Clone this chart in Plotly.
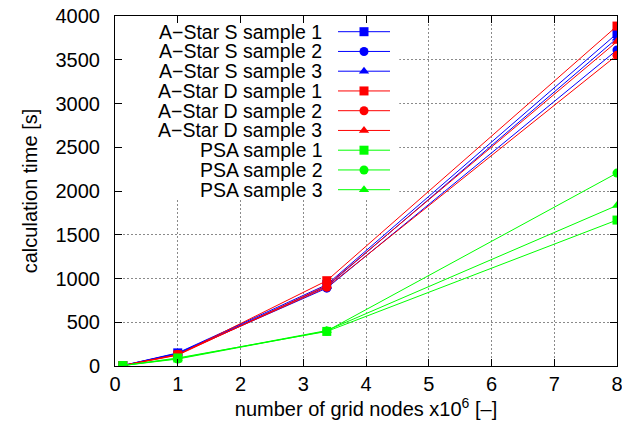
import plotly.graph_objects as go

# ---- data ----
grid_nodes = [0.125, 1.0, 3.375, 8.0]  # x10^6

series_names = [
    "A−Star S sample 1", "A−Star S sample 2", "A−Star S sample 3",
    "A−Star D sample 1", "A−Star D sample 2", "A−Star D sample 3",
    "PSA sample 1", "PSA sample 2", "PSA sample 3",
]
astar_s_1 = [5, 150, 930, 3800]
astar_s_2 = [5, 140, 890, 3612]
astar_s_3 = [5, 145, 910, 3745]
astar_d_1 = [5, 128, 975, 3885]
astar_d_2 = [5, 132, 900, 3552]
astar_d_3 = [5, 124, 920, 3708]
psa_1 = [5, 92, 395, 1668]
psa_2 = [5, 80, 400, 2205]
psa_3 = [5, 85, 405, 1835]

series_values = [astar_s_1, astar_s_2, astar_s_3,
                 astar_d_1, astar_d_2, astar_d_3,
                 psa_1, psa_2, psa_3]
colors = ["#0000ff"] * 3 + ["#ff0000"] * 3 + ["#00ff00"] * 3
symbols = ["square", "circle", "triangle-up"] * 3

x_ticks = [0, 1, 2, 3, 4, 5, 6, 7, 8]
y_ticks = [0, 500, 1000, 1500, 2000, 2500, 3000, 3500, 4000]

FONT = "Liberation Sans, Arial, sans-serif"
FS = 20
LFS = 19.5

fig = go.Figure()
for name, vals, c, s in zip(series_names, series_values, colors, symbols):
    fig.add_trace(go.Scatter(
        x=grid_nodes, y=vals, name=name, mode="lines+markers",
        line=dict(color=c, width=1),
        marker=dict(color=c, symbol=s, size=9),
        showlegend=False, xaxis="x", yaxis="y",
    ))

# ---- custom legend (symbol to the right of the text, as in gnuplot) ----
W, H = 622, 432
ml, mr, mt, mb = 115, 5, 16, 66
pw, ph = W - ml - mr, H - mt - mb

def px_to_paper_x(px):
    return (px - ml) / pw

def px_to_paper_y(py):
    return (H - mb - py) / ph

row0, row_step = 31.7, 19.75
text_right = 324
line_x0, line_x1, mark_x = 338, 390, 364

for i, (name, c, s) in enumerate(zip(series_names, colors, symbols)):
    yp = px_to_paper_y(row0 + i * row_step)
    fig.add_annotation(
        x=px_to_paper_x(text_right), y=yp, xref="paper", yref="paper",
        xanchor="right", yanchor="middle", text=name, showarrow=False,
        font=dict(family=FONT, size=LFS, color="black"),
    )
    fig.add_trace(go.Scatter(
        x=[px_to_paper_x(line_x0), px_to_paper_x(line_x1)], y=[yp, yp],
        mode="lines", line=dict(color=c, width=1),
        showlegend=False, hoverinfo="skip", xaxis="x2", yaxis="y2",
    ))
    fig.add_trace(go.Scatter(
        x=[px_to_paper_x(mark_x)], y=[yp], mode="markers",
        marker=dict(color=c, symbol=s, size=9),
        showlegend=False, hoverinfo="skip", xaxis="x2", yaxis="y2",
    ))

# white box behind legend hides the grid
fig.add_shape(type="rect", xref="x", yref="y", x0=0, x1=4.53, y0=1897, y1=4000,
              fillcolor="white", line=dict(width=0), layer="between")

axis_common = dict(
    showline=True, linecolor="black", linewidth=1, mirror="ticks",
    ticks="inside", ticklen=7, tickcolor="black", tickwidth=1,
    showgrid=True, gridcolor="#8a8a8a", gridwidth=1, griddash="2px,2px",
    zeroline=False, tickfont=dict(family=FONT, size=FS, color="black"),
    automargin=False, ticklabeloverflow="allow",
)

fig.update_layout(
    width=W, height=H, autosize=False,
    margin=dict(l=ml, r=mr, t=mt, b=mb, autoexpand=False),
    paper_bgcolor="white", plot_bgcolor="white",
    font=dict(family=FONT, size=FS, color="black"),
    xaxis=dict(range=[0, 8], tickvals=x_ticks, ticktext=[str(v) for v in x_ticks],
               title=dict(text="number of grid nodes x10<sup>6</sup> [–]",
                          font=dict(family=FONT, size=FS), standoff=0),
               ticklabelstandoff=0, **axis_common),
    yaxis=dict(range=[0, 4000], tickvals=y_ticks, ticktext=[str(v) for v in y_ticks],
               title=dict(text="calculation time [s]",
                          font=dict(family=FONT, size=FS), standoff=12),
               ticklabelstandoff=10, **axis_common),
    xaxis2=dict(domain=[0, 1], range=[0, 1], visible=False, overlaying="x",
                anchor="y2", fixedrange=True),
    yaxis2=dict(domain=[0, 1], range=[0, 1], visible=False, overlaying="y",
                anchor="x2", fixedrange=True),
    showlegend=False,
)

fig.write_html(
    "out.html",
    config={"displayModeBar": False},
    post_script="document.body.style.margin='0px';document.body.style.overflow='hidden';",
)
